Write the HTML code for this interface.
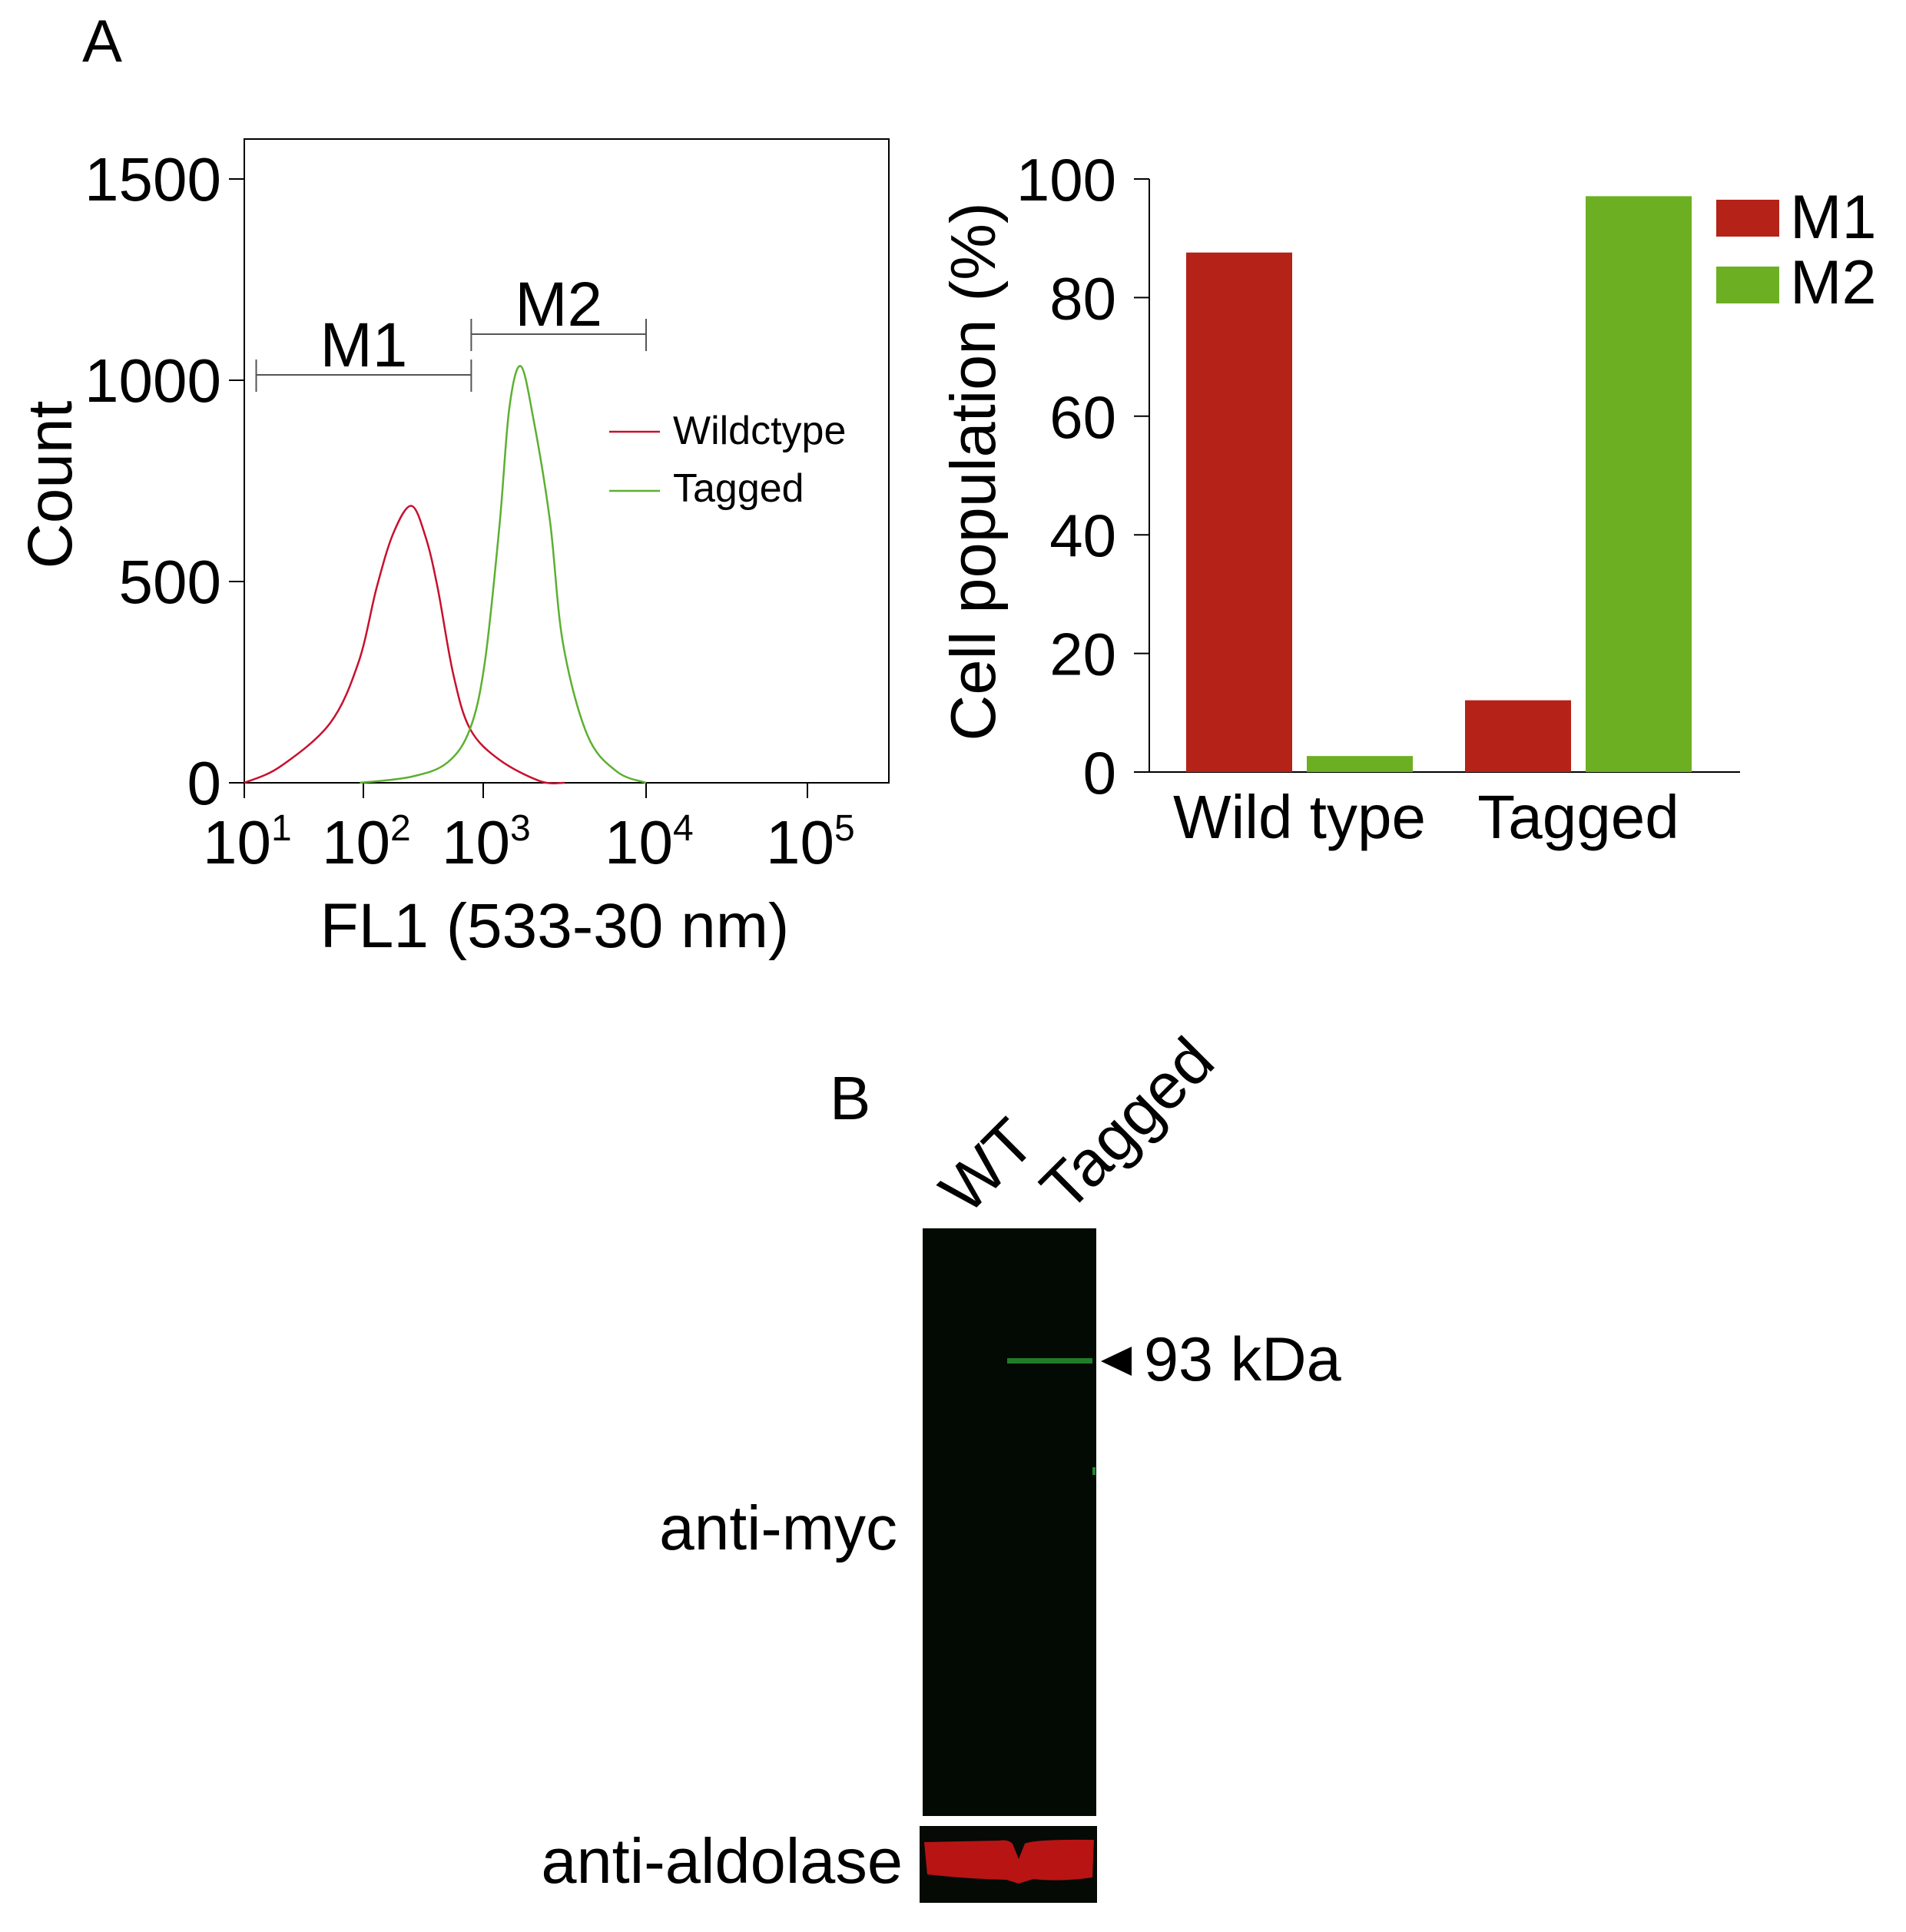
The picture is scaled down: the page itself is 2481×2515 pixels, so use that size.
<!DOCTYPE html>
<html><head><meta charset="utf-8"><style>
html,body{margin:0;padding:0;background:#fff}
svg{display:block}
text{font-family:"Liberation Sans",Arial,sans-serif;fill:#000}
</style></head><body>
<svg id="fig" width="2481" height="2515" viewBox="0 0 2481 2515" xmlns="http://www.w3.org/2000/svg">
<text x="107" y="80" font-size="78">A</text>
<g id="histo"></g>
<g id="bars"></g>
<g id="blot">
<text x="1080" y="1457" font-size="80">B</text>
<text x="0" y="0" font-size="84" transform="translate(1259,1584) rotate(-45)">WT</text>
<text x="0" y="0" font-size="84" transform="translate(1390,1581) rotate(-45)">Tagged</text>
<rect x="1201" y="1599" width="226" height="765" fill="#030a03"/>
<rect x="1311" y="1768" width="111" height="7" fill="#27902f" opacity="0.85"/>
<rect x="1422" y="1910" width="4" height="10" fill="#1f8a2f"/>
<polygon points="1433,1772 1473,1753 1473,1791" fill="#000"/>
<text x="1489" y="1797" font-size="81">93 kDa</text>
<text x="1168" y="2017" font-size="82" text-anchor="end">anti-myc</text>
<rect x="1197" y="2377" width="231" height="100" fill="#050a05"/>
<path d="M1203,2398 L1300,2396 Q1312,2394 1318,2400 L1326,2420 L1334,2400 Q1346,2394 1424,2395 L1422,2444 Q1380,2450 1345,2446 L1326,2452 L1310,2447 Q1260,2446 1207,2440 Z" fill="#b81414"/>
<text x="1175" y="2451" font-size="83" text-anchor="end">anti-aldolase</text>
</g>
</svg>
<script>
// ---------- Histogram data ----------
const xTickExps = [1, 2, 3, 4, 5];
const yTicks = [0, 500, 1000, 1500];
const wildLog = [1.0, 1.3, 1.72, 1.96, 2.11, 2.25, 2.40, 2.52, 2.62, 2.75, 2.89, 3.10, 3.35, 3.5];
const wildCount = [0, 40, 148, 300, 484, 620, 688, 610, 484, 270, 134, 57, 4, 0];
const tagLog = [1.97, 2.40, 2.70, 2.89, 3.01, 3.10, 3.16, 3.23, 3.31, 3.41, 3.49, 3.64, 3.82, 4.0];
const tagCount = [0, 15, 50, 134, 300, 640, 930, 1035, 900, 650, 346, 118, 28, 0];
const gateM1 = [1.1, 2.9];
const gateM2 = [2.9, 4.0];

// ---------- Bar data ----------
const barCats = ["Wild type", "Tagged"];
const barM1 = [87.6, 12.1];
const barM2 = [2.7, 97.1];
const barTicks = [0, 20, 40, 60, 80, 100];

const NS = "http://www.w3.org/2000/svg";
function mk(parent, tag, attrs, txt) {
  const e = document.createElementNS(NS, tag);
  for (const k in attrs) e.setAttribute(k, attrs[k]);
  if (txt !== undefined) e.textContent = txt;
  parent.appendChild(e);
  return e;
}

// Histogram axes
const H = document.getElementById('histo');
const fL = 318, fT = 181, fR = 1157, fB = 1019;
const decadePx = [318, 473, 629, 841, 1051];
function xS(l) {
  const i = Math.max(0, Math.min(3, Math.floor(l - 1)));
  return decadePx[i] + (l - 1 - i) * (decadePx[i + 1] - decadePx[i]);
}
function yS(c) { return fB - c * (fB - 233) / 1500; }

let e = mk(H, 'rect', {x: fL, y: fT, width: fR - fL, height: fB - fT, fill: 'none', stroke: '#000', 'stroke-width': 2});


yTicks.forEach(v => {
  const y = yS(v);
  let t = mk(H, 'line', {x1: fL - 20, x2: fL, y1: y, y2: y, stroke: '#000', 'stroke-width': 2});
  
  
  let l = mk(H, 'text', {x: 288, y: y + 28, 'font-size': 80, 'text-anchor': 'end'}, String(v));
  
  
});
xTickExps.forEach(p => {
  const x = xS(p);
  let t = mk(H, 'line', {x1: x, x2: x, y1: fB, y2: fB + 20, stroke: '#000', 'stroke-width': 2});
  
  
  let l = mk(H, 'text', {x: x - 54, y: 1124, 'font-size': 80});
  
  
  l.appendChild(document.createTextNode('10'));
  const s = document.createElementNS(NS, 'tspan');
  s.setAttribute('font-size', 48);
  s.setAttribute('dy', -30);
  s.textContent = String(p);
  l.appendChild(s);
});
e = mk(H, 'text', {x: 722, y: 1233, 'font-size': 82, 'text-anchor': 'middle'}, 'FL1 (533-30 nm)');


e = mk(H, 'text', {x: 0, y: 0, 'font-size': 82, 'text-anchor': 'middle', transform: 'translate(93,631) rotate(-90)'}, 'Count');



function smooth(xs, ys) {
  const P = xs.map((l, i) => [xS(l), yS(ys[i])]);
  let d = 'M' + P[0][0] + ',' + P[0][1];
  for (let i = 0; i < P.length - 1; i++) {
    const p0 = P[Math.max(0, i - 1)], p1 = P[i], p2 = P[i + 1], p3 = P[Math.min(P.length - 1, i + 2)];
    const c1 = [p1[0] + (p2[0] - p0[0]) / 6, p1[1] + (p2[1] - p0[1]) / 6];
    const c2 = [p2[0] - (p3[0] - p1[0]) / 6, p2[1] - (p3[1] - p1[1]) / 6];
    d += ` C${c1[0]},${c1[1]} ${c2[0]},${c2[1]} ${p2[0]},${p2[1]}`;
  }
  return d;
}
e = mk(H, 'path', {d: smooth(wildLog, wildCount), fill: 'none', stroke: '#c8102e', 'stroke-width': 2.5});


e = mk(H, 'path', {d: smooth(tagLog, tagCount), fill: 'none', stroke: '#5cb030', 'stroke-width': 2.5});



function gate(g, y, label, ly, name) {
  const x1 = xS(g[0]), x2 = xS(g[1]);
  const grp = mk(H, 'g', {});
  
  
  mk(grp, 'line', {x1: x1, x2: x2, y1: y, y2: y, stroke: '#555', 'stroke-width': 2});
  mk(grp, 'line', {x1: x1, x2: x1, y1: y - 20, y2: y + 22, stroke: '#555', 'stroke-width': 2});
  mk(grp, 'line', {x1: x2, x2: x2, y1: y - 20, y2: y + 22, stroke: '#555', 'stroke-width': 2});
  mk(grp, 'text', {x: (x1 + x2) / 2, y: ly, 'font-size': 82, 'text-anchor': 'middle'}, label);
}
gate(gateM1, 488, 'M1', 477, 'gate-m1');
gate(gateM2, 435, 'M2', 424, 'gate-m2');

let lg = mk(H, 'g', {});


mk(lg, 'line', {x1: 793, x2: 859, y1: 562, y2: 562, stroke: '#c8102e', 'stroke-width': 2.5});
mk(lg, 'text', {x: 876, y: 578, 'font-size': 52}, 'Wildctype');
mk(lg, 'line', {x1: 793, x2: 859, y1: 639, y2: 639, stroke: '#5cb030', 'stroke-width': 2.5});
mk(lg, 'text', {x: 876, y: 653, 'font-size': 52}, 'Tagged');

// Bar chart
const B = document.getElementById('bars');
const ax = 1496, ay0 = 1005, ay100 = 233, axR = 2265;
function bY(v) { return ay0 - v * (ay0 - ay100) / 100; }
const groupStart = [1544, 1907];
const bw = 138, gap = 19;
e = mk(B, 'line', {x1: ax, x2: ax, y1: ay100, y2: ay0, stroke: '#000', 'stroke-width': 2});


e = mk(B, 'line', {x1: ax - 20, x2: axR, y1: ay0, y2: ay0, stroke: '#000', 'stroke-width': 2});


barTicks.forEach(v => {
  const y = bY(v);
  let t = mk(B, 'line', {x1: ax - 20, x2: ax, y1: y, y2: y, stroke: '#000', 'stroke-width': 2});
  
  
  let l = mk(B, 'text', {x: 1453, y: y + 28, 'font-size': 78, 'text-anchor': 'end'}, String(v));
  
  
});
barCats.forEach((c, i) => {
  const x0 = groupStart[i];
  let r = mk(B, 'rect', {x: x0, y: bY(barM1[i]), width: bw, height: ay0 - bY(barM1[i]), fill: '#b52218'});
  
  
  r = mk(B, 'rect', {x: x0 + bw + gap, y: bY(barM2[i]), width: bw, height: ay0 - bY(barM2[i]), fill: '#6daf23'});
  
  
  let l = mk(B, 'text', {x: x0 + bw + gap / 2, y: 1091, 'font-size': 80, 'text-anchor': 'middle'}, c);
  
  
});
e = mk(B, 'text', {x: 0, y: 0, 'font-size': 83, 'text-anchor': 'middle', transform: 'translate(1295,614) rotate(-90)'}, 'Cell population (%)');


let bl = mk(B, 'g', {});


mk(bl, 'rect', {x: 2234, y: 260, width: 82, height: 48, fill: '#b52218'});
mk(bl, 'text', {x: 2330, y: 310, 'font-size': 81}, 'M1');
mk(bl, 'rect', {x: 2234, y: 347, width: 82, height: 48, fill: '#6daf23'});
mk(bl, 'text', {x: 2330, y: 395, 'font-size': 81}, 'M2');
</script>
</body></html>
